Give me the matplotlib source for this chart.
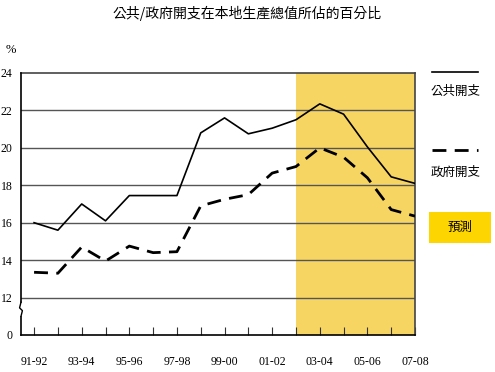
import matplotlib
matplotlib.use('Agg')
from matplotlib import pyplot as plt
from matplotlib.patches import Rectangle
from matplotlib.lines import Line2D

plt.rcParams['font.family'] = ['Liberation Serif', 'Noto Sans CJK TC']

years = ['91-92', '92-93', '93-94', '94-95', '95-96', '96-97', '97-98', '98-99',
         '99-00', '00-01', '01-02', '02-03', '03-04', '04-05', '05-06', '06-07', '07-08']
public_exp = [16.0, 15.6, 17.0, 16.1, 17.45, 17.45, 17.45, 20.8, 21.6, 20.75,
              21.05, 21.5, 22.35, 21.8, 20.05, 18.45, 18.1]
govt_exp = [13.35, 13.3, 14.7, 13.95, 14.75, 14.4, 14.45, 16.9, 17.25, 17.5,
            18.65, 19.0, 20.0, 19.5, 18.4, 16.7, 16.35]
forecast_start = 11  # 02-03
y_ticks = [10, 12, 14, 16, 18, 20, 22, 24]
y_labels = ['0', '12', '14', '16', '18', '20', '22', '24']

fig = plt.figure(figsize=(4.95, 3.72), dpi=100)
ax = fig.add_axes([0.0424, 0.0995, 0.796, 0.7043])

x = list(range(len(years)))
ax.axvspan(forecast_start, len(years) - 1, color='#F7D563', zorder=0, lw=0)
for yv in y_ticks[1:-1]:
    ax.axhline(yv, color='#555555', lw=1.0, zorder=1)

ax.plot(x, public_exp, color='black', lw=1.2, zorder=3)
ax.plot(x, govt_exp, color='black', lw=2.0, dashes=(5, 3), zorder=3)

xmin = -0.55
ax.set_xlim(xmin, len(years) - 1)
ax.set_ylim(10, 24)
ax.set_yticks(y_ticks)
ax.set_yticklabels(y_labels, fontsize=8.5)
ax.set_xticks(x)
ax.set_xticklabels([y if i % 2 == 0 else '' for i, y in enumerate(years)], fontsize=8.5)
ax.tick_params(axis='x', direction='in', length=6, pad=15, color='#333333')
ax.tick_params(axis='y', length=0, pad=6)
ax.spines['left'].set_visible(False)
ax.spines['bottom'].set_color('black')
ax.spines['bottom'].set_linewidth(1.2)
for s in ['top', 'right']:
    ax.spines[s].set_color('#444444')
    ax.spines[s].set_linewidth(1.2)

# left axis with break mark
ax.plot([xmin, xmin], [24, 11.75], color='black', lw=1.2, clip_on=False, zorder=5)
ax.plot([xmin, xmin - 0.06, xmin + 0.06, xmin], [11.75, 11.45, 11.3, 11.0],
        color='black', lw=1.0, clip_on=False, zorder=5)
ax.plot([xmin, xmin], [10.95, 10], color='black', lw=1.2, clip_on=False, zorder=5)

fig.text(0.5, 0.965, '公共/政府開支在本地生產總值所佔的百分比', ha='center', va='center',
         fontsize=10, family=['Noto Sans CJK TC'])
fig.text(0.012, 0.865, '%', ha='left', va='center', fontsize=9)

# legend
fig.add_artist(Line2D([0.873, 0.966], [0.807, 0.807], color='black', lw=1.2))
fig.text(0.92, 0.755, '公共開支', ha='center', va='center', fontsize=9, family=['Noto Sans CJK TC'])
fig.add_artist(Line2D([0.873, 0.966], [0.597, 0.597], color='black', lw=2.0, dashes=(5, 3)))
fig.text(0.92, 0.537, '政府開支', ha='center', va='center', fontsize=9, family=['Noto Sans CJK TC'])
fig.add_artist(Rectangle((0.867, 0.347), 0.125, 0.083, transform=fig.transFigure,
                         color='#FDD500', lw=0))
fig.text(0.93, 0.389, '預測', ha='center', va='center', fontsize=9, family=['Noto Sans CJK TC'])

plt.savefig('out.png', dpi=100)
